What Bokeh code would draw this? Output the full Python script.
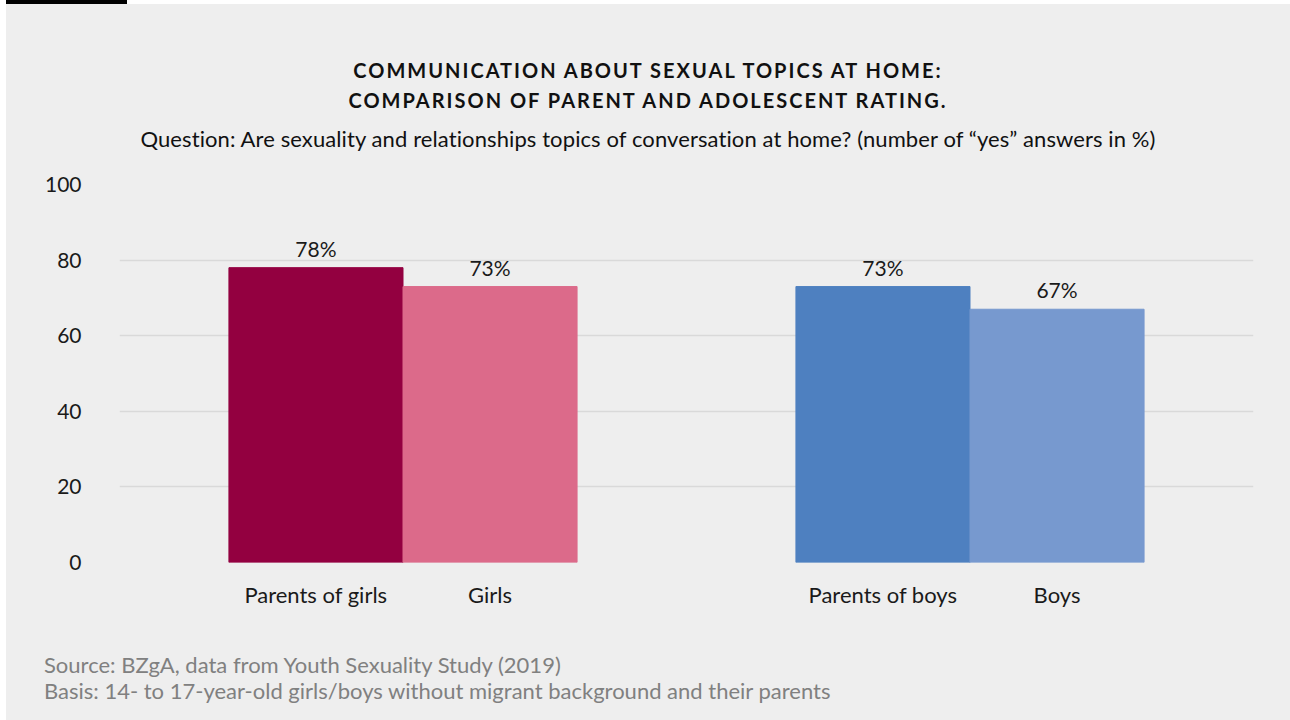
from bokeh.plotting import figure
from bokeh.models import ColumnDataSource, LabelSet, FixedTicker, Range1d, Div
from bokeh.core.properties import value
from bokeh.layouts import column
from bokeh.embed import file_html
from bokeh.resources import INLINE

categories = ["Parents of girls", "Girls", "Parents of boys", "Boys"]
values = [78, 73, 73, 67]
groups = [0, 0, 1, 1]
sides = [-1, 1, -1, 1]
colors = ["#930040", "#dc6a8a", "#4e80c0", "#7799cf"]
y_ticks = [0, 20, 40, 60, 80, 100]

title_lines = ["COMMUNICATION ABOUT SEXUAL TOPICS AT HOME:", "COMPARISON OF PARENT AND ADOLESCENT RATING."]
subtitle = "Question: Are sexuality and relationships topics of conversation at home? (number of \u201cyes\u201d answers in %)"
notes = ["Source: BZgA, data from Youth Sexuality Study (2019)",
         "Basis: 14- to 17-year-old girls/boys without migrant background and their parents"]

FONT = "Lato"
BG = "#eeeeee"
BAR_W = 0.307
W = 1284
xs = [g + 0.5 + s * BAR_W / 2 for g, s in zip(groups, sides)]
src = ColumnDataSource(dict(x=xs, top=values, color=colors,
                            label=[f"{v}%" for v in values]))

p = figure(width=W, height=480, output_backend="svg", toolbar_location=None,
           x_range=Range1d(0, 2), y_range=Range1d(0, 100),
           min_border_left=113, min_border_right=37, min_border_top=24, min_border_bottom=78)
p.margin = (0, 0, 0, 0)
p.background_fill_color = BG
p.border_fill_color = BG
p.outline_line_color = None

p.vbar(x="x", top="top", width=BAR_W, bottom=0, color="color", source=src)

p.add_layout(LabelSet(x="x", y="top", text="label", source=src, y_offset=7,
                      text_align="center", text_baseline="bottom",
                      text_font=value(FONT), text_font_size="21px", text_color="#1a1a1a"))

# axes
p.yaxis.ticker = FixedTicker(ticks=y_ticks)
p.yaxis.axis_line_color = None
p.yaxis.major_tick_line_color = None
p.yaxis.minor_tick_line_color = None
p.yaxis.major_label_standoff = 32
p.yaxis.major_label_text_font = FONT
p.yaxis.major_label_text_font_size = "21px"
p.yaxis.major_label_text_color = "#1a1a1a"

p.xaxis.ticker = FixedTicker(ticks=xs)
p.xaxis.major_label_overrides = {x: c for x, c in zip(xs, categories)}
p.xaxis.axis_line_color = None
p.xaxis.major_tick_line_color = None
p.xaxis.minor_tick_line_color = None
p.xaxis.major_label_standoff = 12
p.xaxis.major_label_text_font = FONT
p.xaxis.major_label_text_font_size = "22px"
p.xaxis.major_label_text_color = "#1a1a1a"

p.xgrid.grid_line_color = None
p.ygrid.ticker = FixedTicker(ticks=y_ticks)
p.ygrid.grid_line_color = "#d9d9d9"
p.ygrid.grid_line_width = 1.5
p.ygrid.level = "underlay"

base = f"font-family:{FONT};color:#111111;"
title_html = (
    f"<div style='{base}width:{W}px;text-align:center;padding-top:51px;'>"
    + "".join(f"<div style='font-weight:bold;font-size:20px;letter-spacing:2px;line-height:30px;'>{t}</div>"
              for t in title_lines)
    + f"<div style='font-size:22px;letter-spacing:0.1px;line-height:30px;margin-top:9px;'>{subtitle}</div></div>"
)
title_div = Div(text=title_html, width=W, height=156, margin=(0, 0, 0, 0),
                styles={"background-color": BG})

notes_html = (
    f"<div style='font-family:{FONT};color:#808080;font-size:22px;line-height:26px;"
    f"padding-top:12px;padding-left:38px;'>"
    + "".join(f"<div>{t}</div>" for t in notes) + "</div>"
)
notes_div = Div(text=notes_html, width=W, height=80, margin=(0, 0, 0, 0),
                styles={"background-color": BG})

inner = column(title_div, p, notes_div, spacing=0, margin=(0, 0, 0, 6),
               styles={"background-color": BG})
bar = Div(width=121, height=4, styles={"background-color": "black"}, margin=(0, 0, 0, 6))
layout = column(bar, inner, spacing=0)

open("out.html", "w").write(file_html(layout, INLINE))
